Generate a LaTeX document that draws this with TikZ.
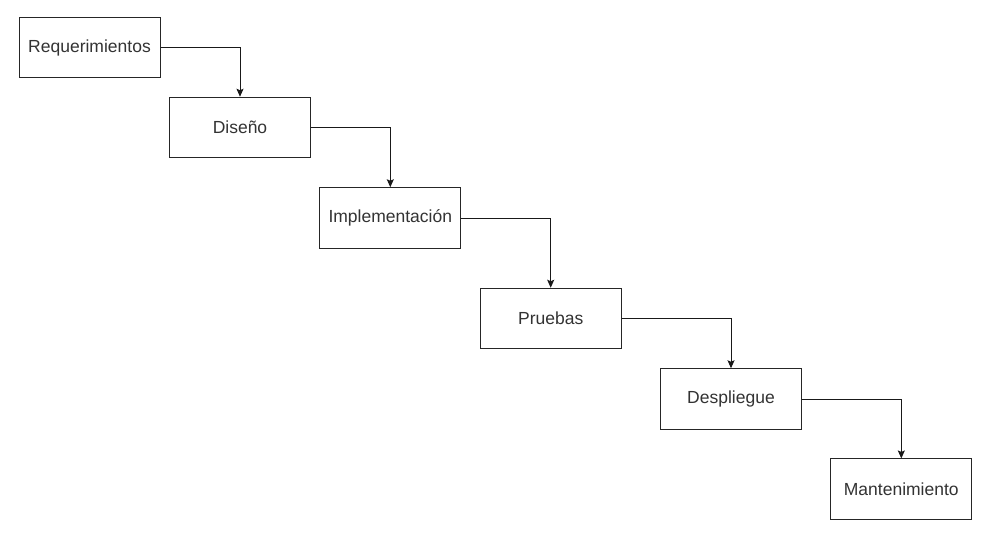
\documentclass[tikz,border=0pt]{standalone}
\usepackage{fontspec}
\setmainfont{Liberation Sans}
\usetikzlibrary{arrows.meta}
\begin{document}
\begin{tikzpicture}[x=1pt,y=-1pt,
  stage/.style={draw=black!85, line width=1pt, fill=white, minimum width=141pt, minimum height=60.5pt, inner sep=0pt,
    font=\fontsize{17.5}{20}\selectfont, text=black!80},
  link/.style={draw=black!90, line width=1pt, -{Stealth[length=8pt,width=7pt,inset=1.5pt]}}]
\useasboundingbox (0,0) rectangle (993,538);
\fill[white] (0,0) rectangle (993,538);
\node[stage] (req) at (89.5,47.5) {Requerimientos};
\node[stage] (dis) at (240,127.5) {Diseño};
\node[stage] (imp) at (390.3,218) {Implementación};
\node[stage] (pru) at (550.7,318.5) {Pruebas};
\node[stage] (des) at (731,399) {Despliegue};
\node[stage] (man) at (901.3,489.2) {Mantenimiento};
\draw[link] (req.east) -| (dis.north);
\draw[link] (dis.east) -| (imp.north);
\draw[link] (imp.east) -| (pru.north);
\draw[link] (pru.east) -| (des.north);
\draw[link] (des.east) -| (man.north);
\end{tikzpicture}
\end{document}
